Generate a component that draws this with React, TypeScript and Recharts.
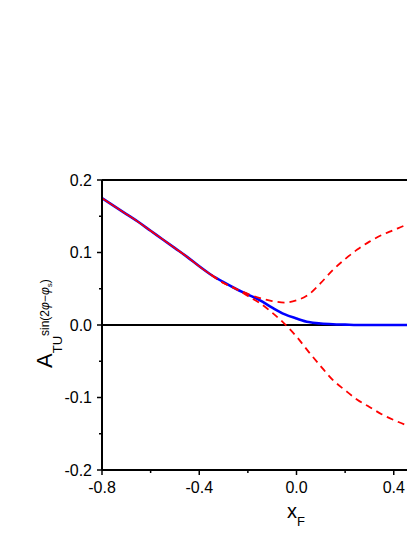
import React from 'react';
import { LineChart, Line, XAxis, YAxis, ReferenceLine } from 'recharts';

// x_F grid shared by every curve
const xF = [
  -0.8, -0.75, -0.7, -0.65, -0.6, -0.55, -0.5, -0.45, -0.4, -0.35, -0.3, -0.25, -0.2,
  -0.15, -0.1, -0.05, 0.0, 0.05, 0.1, 0.15, 0.2, 0.25, 0.3, 0.35, 0.4, 0.45, 0.5,
];

// blue solid curve
const blueCurve = [
  0.175, 0.164, 0.153, 0.142, 0.13, 0.118, 0.106, 0.094, 0.081, 0.069, 0.059, 0.05, 0.042,
  0.034, 0.024, 0.015, 0.009, 0.004, 0.002, 0.001, 0.0005, 0, 0, 0, 0, 0, 0,
];

// red solid part (sits on top of the blue one)
const redSolid = [
  0.175, 0.164, 0.153, 0.142, 0.13, 0.118, 0.106, 0.094, 0.081, 0.069, null, null, null,
  null, null, null, null, null, null, null, null, null, null, null, null, null, null,
];

// red dashed, upper branch
const redUpper = [
  null, null, null, null, null, null, null, null, null, 0.069, 0.058, 0.05, 0.043,
  0.037, 0.033, 0.031, 0.034, 0.042, 0.058, 0.076, 0.091, 0.104, 0.115, 0.124, 0.131, 0.138, 0.144,
];

// red dashed, lower branch
const redLower = [
  null, null, null, null, null, null, null, null, null, 0.069, 0.058, 0.05, 0.04,
  0.03, 0.017, 0.002, -0.016, -0.037, -0.057, -0.076, -0.09, -0.103, -0.113, -0.123, -0.131, -0.138, -0.144,
];

// only the ticks that fall inside the visible part of the frame
const xTicks = [-0.8, -0.6, -0.4, -0.2, 0, 0.2, 0.4];
const yTicks = [-0.2, -0.15, -0.1, -0.05, 0, 0.05, 0.1, 0.15, 0.2];

const FONT = '"Liberation Sans", Arial, sans-serif';

const chartData = xF.map((x, i) => ({
  x,
  blue: blueCurve[i],
  redSolid: redSolid[i],
  upper: redUpper[i],
  lower: redLower[i],
}));

const isMajor = (v: number, step: number) =>
  Math.abs(Math.round(v / step) * step - v) < 1e-6;

function YTick(props: any) {
  const { x, y, payload } = props;
  const major = isMajor(payload.value, 0.1);
  return (
    <g>
      <line x1={x - (major ? 5 : 3)} x2={x} y1={y} y2={y} stroke="#000" strokeWidth={1.5} />
      {major && (
        <text
          x={x - 10}
          y={y}
          dy="0.36em"
          textAnchor="end"
          fontSize={16}
          fontFamily={FONT}
          fill="#000"
        >
          {payload.value.toFixed(1)}
        </text>
      )}
    </g>
  );
}

function XTick(props: any) {
  const { x, y, payload } = props;
  const major = isMajor(payload.value, 0.4);
  return (
    <g>
      <line x1={x} x2={x} y1={y} y2={y + (major ? 5 : 3)} stroke="#000" strokeWidth={1.5} />
      {major && (
        <text x={x} y={y + 23} textAnchor="middle" fontSize={16} fontFamily={FONT} fill="#000">
          {payload.value.toFixed(1)}
        </text>
      )}
    </g>
  );
}

export default function App() {
  return (
    <div style={{ position: 'relative', width: 407, height: 521, overflow: 'hidden' }}>
      <LineChart
        width={500}
        height={521}
        data={chartData}
        margin={{ top: 172, right: 17, left: 0, bottom: 19 }}
      >
        <XAxis
          dataKey="x"
          type="number"
          domain={[-0.8, 0.8]}
          ticks={xTicks}
          height={40}
          tickSize={0}
          tickMargin={0}
          tickLine={false}
          tick={<XTick />}
          axisLine={{ stroke: '#000', strokeWidth: 2 }}
        />
        <YAxis
          type="number"
          domain={[-0.2, 0.2]}
          ticks={yTicks}
          width={94}
          tickSize={0}
          tickMargin={0}
          tickLine={false}
          tick={<YTick />}
          axisLine={{ stroke: '#000', strokeWidth: 2 }}
          allowDataOverflow
        />
        <ReferenceLine y={0.2} stroke="#000" strokeWidth={2} />
        <ReferenceLine y={0} stroke="#000" strokeWidth={2} />
        <Line
          dataKey="blue"
          type="monotone"
          stroke="#0000ff"
          strokeWidth={2.6}
          dot={false}
          isAnimationActive={false}
        />
        <Line
          dataKey="upper"
          type="monotone"
          stroke="#ff0000"
          strokeWidth={1.8}
          strokeDasharray="7 5"
          dot={false}
          isAnimationActive={false}
        />
        <Line
          dataKey="lower"
          type="monotone"
          stroke="#ff0000"
          strokeWidth={1.8}
          strokeDasharray="7 5"
          dot={false}
          isAnimationActive={false}
        />
        <Line
          dataKey="redSolid"
          type="monotone"
          stroke="#ff0000"
          strokeWidth={1.6}
          dot={false}
          isAnimationActive={false}
        />
      </LineChart>

      {/* axis titles */}
      <svg
        width={407}
        height={521}
        style={{ position: 'absolute', left: 0, top: 0, pointerEvents: 'none' }}
        fontFamily={FONT}
      >
        <text x={279} y={510} fontSize={20} fill="#000">
          x
          <tspan fontSize={13} dy={8}>
            F
          </tspan>
        </text>
        <text transform="translate(44,360) rotate(-90)" fontSize={22} fill="#000">
          A
          <tspan fontSize={13} dy={10}>
            TU
          </tspan>
          <tspan fontSize={12} dy={-13}>
            sin(2
            <tspan fontStyle="italic">φ</tspan>−<tspan fontStyle="italic">φ</tspan>
            <tspan fontSize={8} dy={3}>s</tspan>
            <tspan dy={-3}>)</tspan>
          </tspan>
        </text>
      </svg>
    </div>
  );
}
